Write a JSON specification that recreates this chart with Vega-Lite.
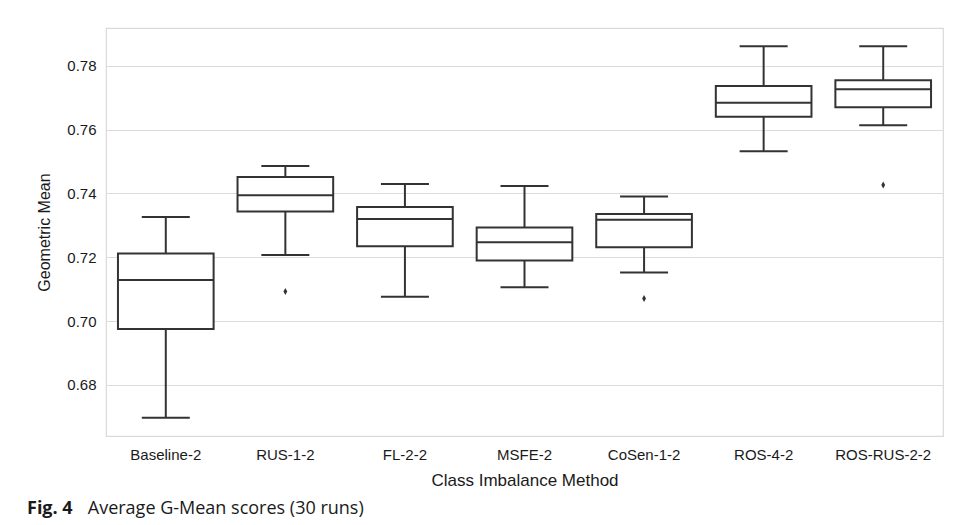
{
  "$schema": "https://vega.github.io/schema/vega-lite/v6.json",
  "width": 837,
  "height": 408,
  "autosize": {"type": "none"},
  "padding": {"left": 106, "top": 28, "right": 14, "bottom": 89},
  "background": "white",
  "config": {
    "view": {"stroke": "#d9d9d9", "strokeWidth": 1.2},
    "font": "Liberation Sans"
  },
  "title": {
    "text": "Fig. 4",
    "subtitle": "\u200b\u00a0\u00a0\u00a0\u00a0\u00a0\u00a0\u00a0\u00a0\u00a0\u00a0\u00a0\u00a0\u00a0Average G-Mean scores (30 runs)",
    "orient": "bottom",
    "anchor": "start",
    "frame": "group",
    "dx": -79,
    "offset": 12,
    "font": "Open Sans",
    "fontSize": 18,
    "fontWeight": "bold",
    "color": "#1a1a1a",
    "lineHeight": 18,
    "subtitleFont": "Open Sans",
    "subtitleFontSize": 18,
    "subtitleFontWeight": "normal",
    "subtitleColor": "#1a1a1a",
    "subtitleLineHeight": 18,
    "subtitlePadding": -18
  },
  "datasets": {
    "boxes": [
      {"method": "Baseline-2", "lo": 0.6697, "q1": 0.6975, "med": 0.7129, "q3": 0.7212, "hi": 0.7326},
      {"method": "RUS-1-2", "lo": 0.7207, "q1": 0.7343, "med": 0.7394, "q3": 0.7451, "hi": 0.7486},
      {"method": "FL-2-2", "lo": 0.7076, "q1": 0.7234, "med": 0.7320, "q3": 0.7357, "hi": 0.7429},
      {"method": "MSFE-2", "lo": 0.7106, "q1": 0.7190, "med": 0.7247, "q3": 0.7293, "hi": 0.7423},
      {"method": "CoSen-1-2", "lo": 0.7152, "q1": 0.7231, "med": 0.7317, "q3": 0.7335, "hi": 0.7390},
      {"method": "ROS-4-2", "lo": 0.7532, "q1": 0.7640, "med": 0.7684, "q3": 0.7736, "hi": 0.7861},
      {"method": "ROS-RUS-2-2", "lo": 0.7613, "q1": 0.7670, "med": 0.7726, "q3": 0.7754, "hi": 0.7861}
    ],
    "outliers": [
      {"method": "RUS-1-2", "value": 0.7093},
      {"method": "CoSen-1-2", "value": 0.7071},
      {"method": "ROS-RUS-2-2", "value": 0.7426}
    ]
  },
  "encoding": {
    "x": {
      "field": "method",
      "type": "nominal",
      "sort": null,
      "scale": {"domain": ["Baseline-2", "RUS-1-2", "FL-2-2", "MSFE-2", "CoSen-1-2", "ROS-4-2", "ROS-RUS-2-2"], "paddingInner": 0, "paddingOuter": 0},
      "axis": {
        "title": "Class Imbalance Method",
        "labelAngle": 0,
        "domain": false,
        "ticks": false,
        "labelPadding": 11,
        "labelFontSize": 15,
        "labelColor": "#1a1a1a",
        "titleFontSize": 17,
        "titleFontWeight": "normal",
        "titleColor": "#1a1a1a",
        "titlePadding": 10
      }
    }
  },
  "layer": [
    {
      "data": {"name": "boxes"},
      "mark": {"type": "rule", "color": "#333333", "strokeWidth": 2},
      "encoding": {
        "y": {
          "field": "lo",
          "type": "quantitative",
          "scale": {"domain": [0.664, 0.7918], "nice": false, "zero": false},
          "axis": {
            "title": "Geometric Mean",
            "values": [0.68, 0.70, 0.72, 0.74, 0.76, 0.78],
            "format": ".2f",
            "domain": false,
            "ticks": false,
            "labelPadding": 10,
            "labelFontSize": 15,
            "labelColor": "#1a1a1a",
            "titleFontSize": 16,
            "titleFontWeight": "normal",
            "titleColor": "#1a1a1a",
            "titlePadding": 14,
            "gridColor": "#dcdcdc",
            "gridWidth": 1.2
          }
        },
        "y2": {"field": "hi"}
      }
    },
    {
      "data": {"name": "boxes"},
      "mark": {"type": "bar", "fill": "white", "stroke": "#333333", "strokeWidth": 2, "width": {"band": 0.8}},
      "encoding": {
        "y": {"field": "q1", "type": "quantitative"},
        "y2": {"field": "q3"}
      }
    },
    {
      "data": {"name": "boxes"},
      "mark": {"type": "tick", "color": "#333333", "size": 96, "thickness": 2, "opacity": 1},
      "encoding": {"y": {"field": "med", "type": "quantitative"}}
    },
    {
      "data": {"name": "boxes"},
      "mark": {"type": "tick", "color": "#333333", "size": 48, "thickness": 2, "opacity": 1},
      "encoding": {"y": {"field": "lo", "type": "quantitative"}}
    },
    {
      "data": {"name": "boxes"},
      "mark": {"type": "tick", "color": "#333333", "size": 48, "thickness": 2, "opacity": 1},
      "encoding": {"y": {"field": "hi", "type": "quantitative"}}
    },
    {
      "data": {"name": "outliers"},
      "mark": {"type": "point", "filled": true, "color": "#333333", "opacity": 1, "size": 49, "shape": "M0,-1L0.55,0L0,1L-0.55,0Z"},
      "encoding": {"y": {"field": "value", "type": "quantitative"}}
    }
  ]
}
